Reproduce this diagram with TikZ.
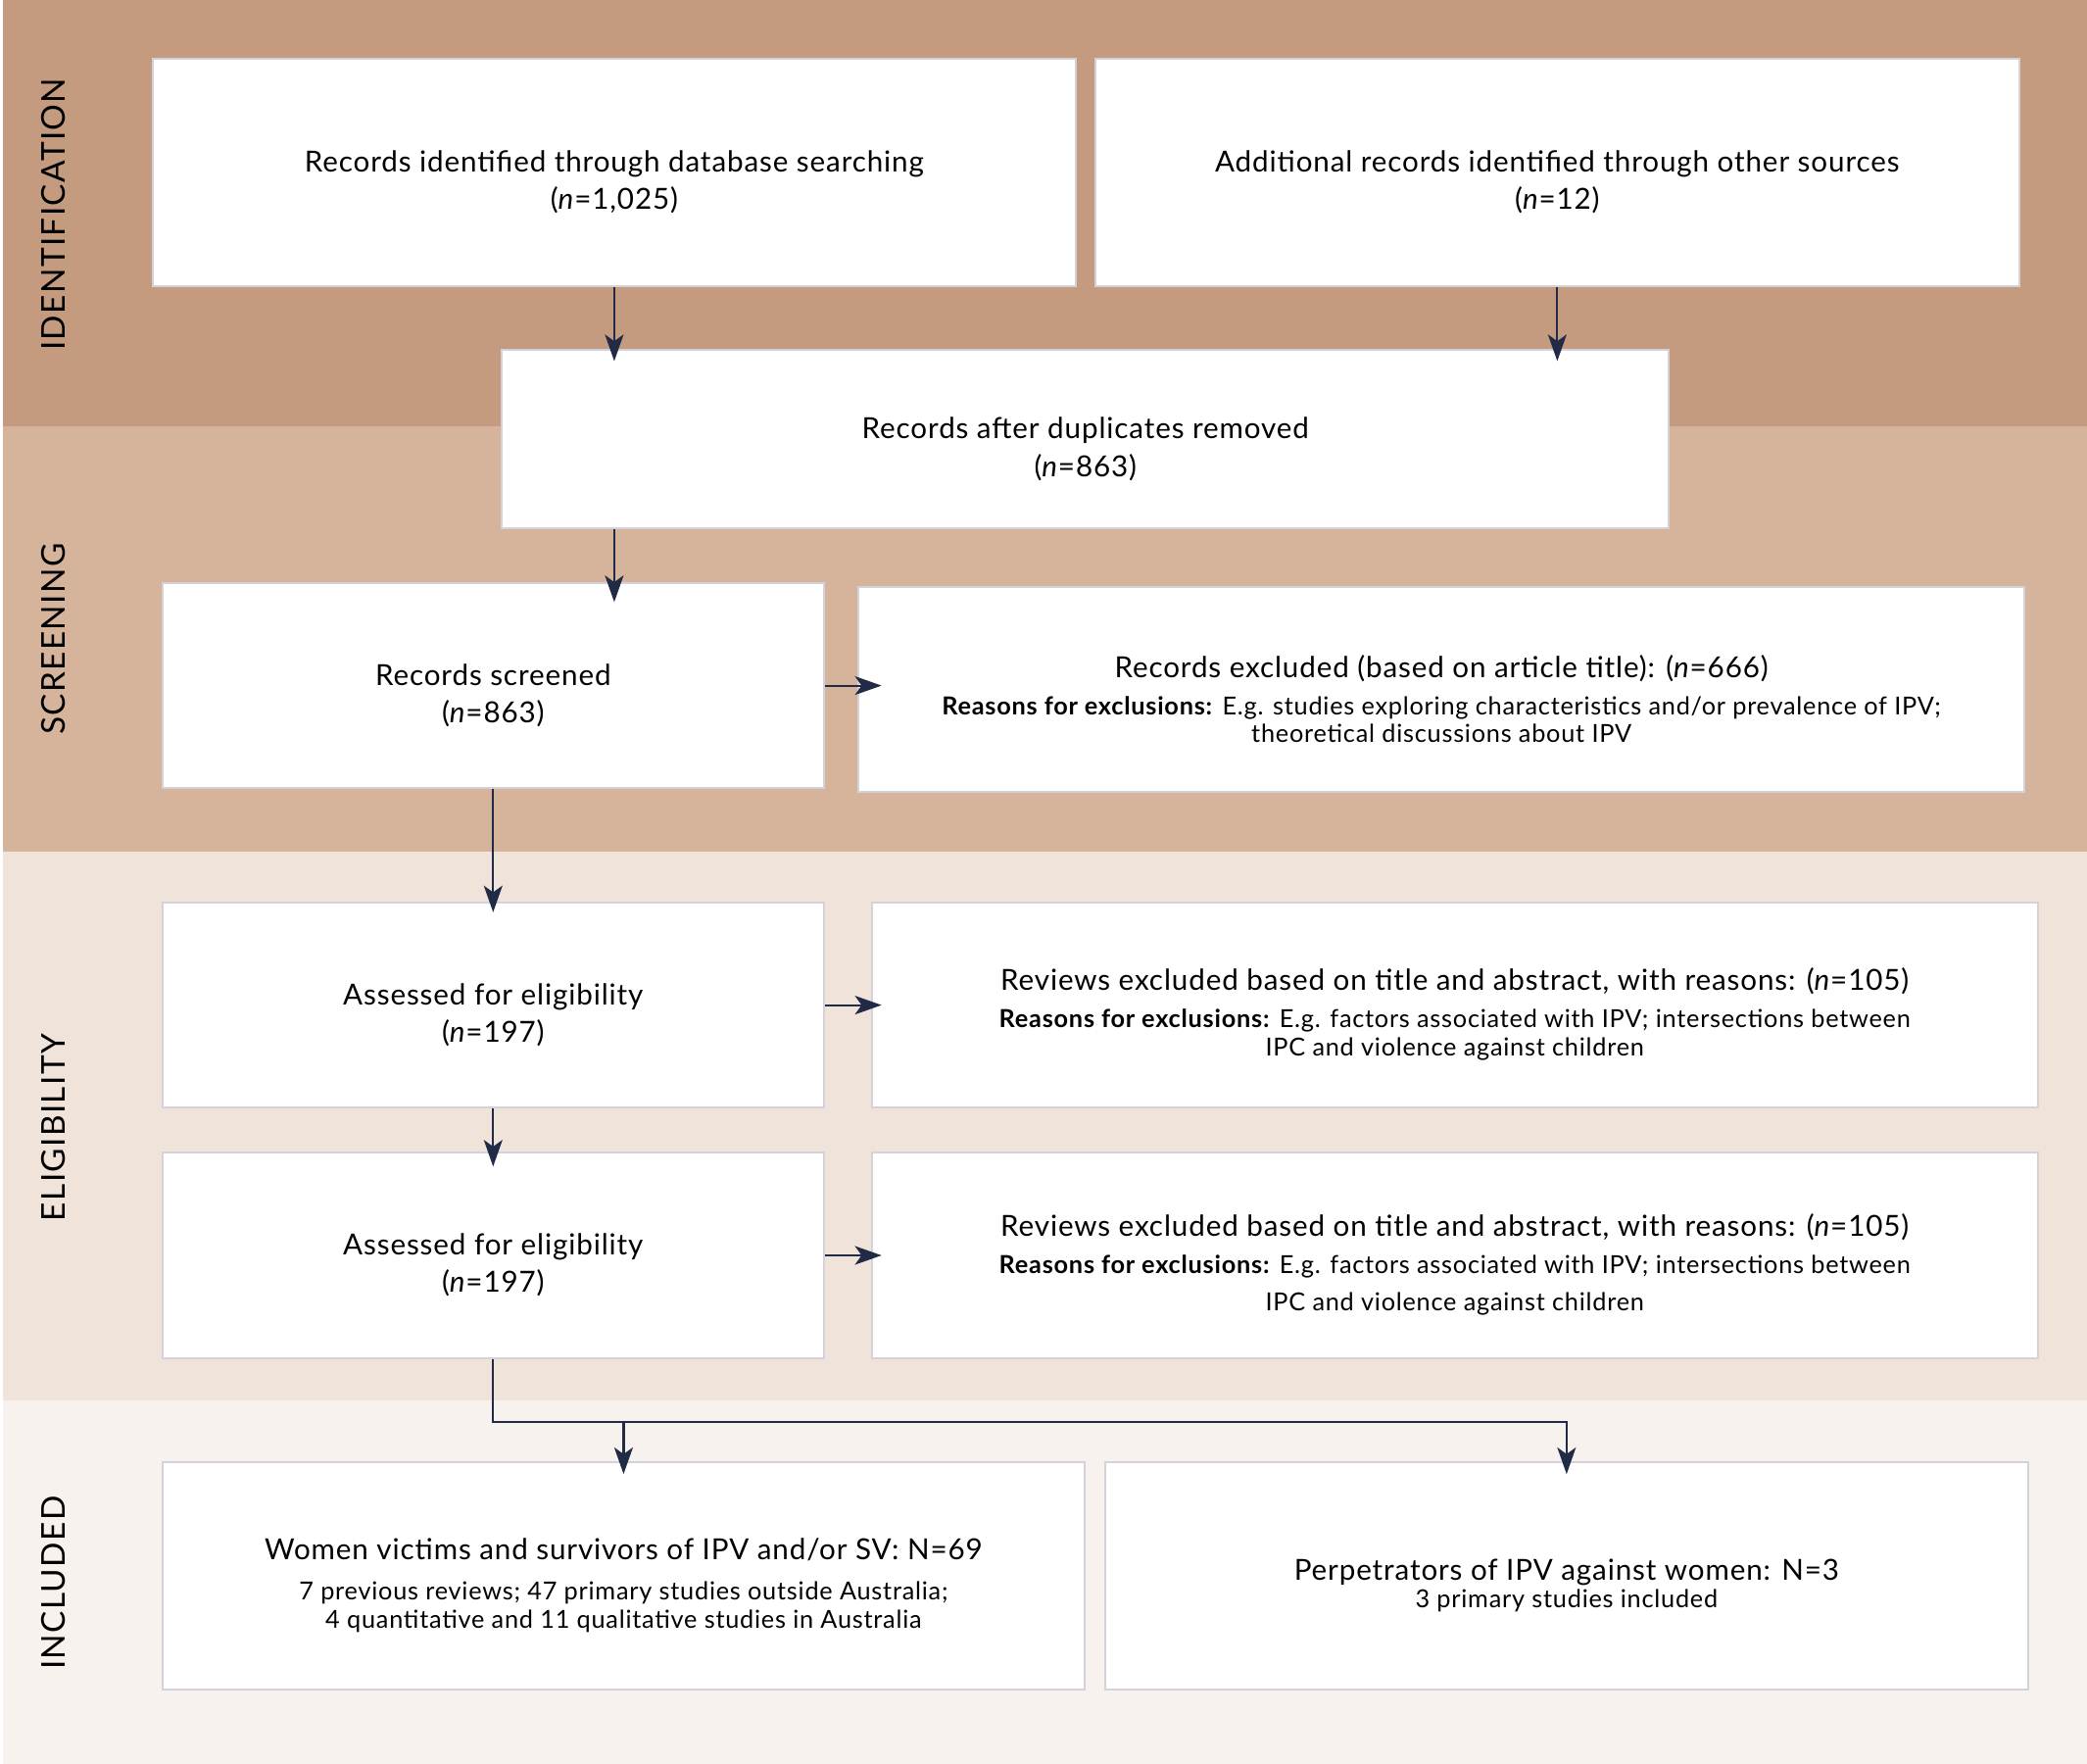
\documentclass[tikz,border=0pt]{standalone}
\usepackage{fontspec}
\setmainfont{Lato}[LetterSpace=3]
\newfontfamily\stagefont{Lato}[LetterSpace=4]
\usetikzlibrary{arrows.meta}

\definecolor{identcol}{HTML}{C49B7E}
\definecolor{screencol}{HTML}{D5B49B}
\definecolor{eligcol}{HTML}{F0E3DA}
\definecolor{inclcol}{HTML}{F8F2EE}
\definecolor{boxline}{HTML}{D5D1DB}
\definecolor{arrowcol}{HTML}{222B45}

\newcommand{\mainsize}{\fontsize{12.4}{16}\selectfont}
\newcommand{\smallsize}{\fontsize{10.6}{12}\selectfont}
\newcommand{\lift}{\rule{0pt}{17.5pt}}

\tikzset{
	box/.style={draw=boxline, line width=0.85pt, fill=white, inner sep=0pt, align=center, font=\mainsize},
	arr/.style={draw=arrowcol, line width=0.9pt, -{Stealth[length=0.4cm, width=0.28cm, inset=0.1cm]}},
	stage/.style={rotate=90, font=\stagefont\fontsize{14}{14}\selectfont},
}

\begin{document}
\begin{tikzpicture}[x=0.02cm, y=-0.02cm]

	\useasboundingbox (0,0) rectangle (1568,1325);

	% stage bands
	\fill[white] (0,0) rectangle (1568,1325);
	\fill[identcol]  (2,0)    rectangle (1568,320);
	\fill[screencol] (2,320)  rectangle (1568,640);
	\fill[eligcol]   (2,640)  rectangle (1568,1052);
	\fill[inclcol]   (2,1052) rectangle (1568,1325);

	\node[stage] (identlab)  at (40,161)  {IDENTIFICATION};
	\node[stage] (screenlab) at (40,480)  {SCREENING};
	\node[stage] (eliglab)   at (40,847)  {ELIGIBILITY};
	\node[stage] (incllab)   at (40,1189) {INCLUDED};

	% boxes
	\node[box, minimum width=13.86cm, minimum height=3.42cm] (dbrec) at (461.5,129.5)
		{\lift Records identified through database searching\\(\textit{n}=1,025)};
	\node[box, minimum width=13.88cm, minimum height=3.42cm] (othrec) at (1170,129.5)
		{\lift Additional records identified through other sources\\(\textit{n}=12)};
	\node[box, minimum width=17.54cm, minimum height=2.68cm] (dedup) at (815.5,330)
		{\lift Records after duplicates removed\\(\textit{n}=863)};

	\node[box, minimum width=9.94cm, minimum height=3.08cm] (screened) at (370.5,515)
		{\lift Records screened\\(\textit{n}=863)};
	\node[box, minimum width=17.52cm, minimum height=3.08cm] (excl) at (1083,518)
		{\lift Records excluded (based on article title): (\textit{n}=666)\\
		{\smallsize\textbf{Reasons for exclusions:} E.g. studies exploring characteristics and/or prevalence of IPV;}\\[-4pt]
		{\smallsize theoretical discussions about IPV}};

	\node[box, minimum width=9.94cm, minimum height=3.08cm] (elig1) at (370.5,755)
		{\lift Assessed for eligibility\\(\textit{n}=197)};
	\node[box, minimum width=17.52cm, minimum height=3.08cm] (revex1) at (1093,755)
		{\lift Reviews excluded based on title and abstract, with reasons: (\textit{n}=105)\\
		{\smallsize\textbf{Reasons for exclusions:} E.g. factors associated with IPV; intersections between}\\[-4pt]
		{\smallsize IPC and violence against children}};

	\node[box, minimum width=9.94cm, minimum height=3.08cm] (elig2) at (370.5,943)
		{\lift Assessed for eligibility\\(\textit{n}=197)};
	\node[box, minimum width=17.52cm, minimum height=3.08cm] (revex2) at (1093,943)
		{\lift Reviews excluded based on title and abstract, with reasons: (\textit{n}=105)\\
		{\smallsize\textbf{Reasons for exclusions:} E.g. factors associated with IPV; intersections between}\\
		{\smallsize IPC and violence against children}};

	\node[box, minimum width=13.86cm, minimum height=3.42cm] (incvict) at (468.5,1183.5)
		{\lift Women victims and survivors of IPV and/or SV: N=69\\[1pt]
		{\smallsize 7 previous reviews; 47 primary studies outside Australia;}\\[-4pt]
		{\smallsize 4 quantitative and 11 qualitative studies in Australia}};
	\node[box, minimum width=13.88cm, minimum height=3.42cm] (incperp) at (1177,1183.5)
		{\lift Perpetrators of IPV against women: N=3\\[-4pt]
		{\smallsize 3 primary studies included}};

	% arrows
	\draw[arr, shorten >=-0.18cm] (dbrec) -- (dbrec |- dedup.north);
	\draw[arr, shorten >=-0.18cm] (othrec) -- (othrec |- dedup.north);
	\draw[arr, shorten >=-0.3cm] (dedup.south -| dbrec) -- (dbrec |- screened.north);

	\draw[arr, shorten >=-0.36cm] (screened.east) -- (screened.east -| excl.west);
	\draw[arr, shorten >=-0.16cm] (screened) -- (elig1);

	\draw[arr, shorten >=-0.16cm] (elig1) -- (elig1 -| revex1.west);
	\draw[arr, shorten >=-0.22cm] (elig1) -- (elig2);
	\draw[arr, shorten >=-0.16cm] (elig2) -- (elig2 -| revex2.west);

	\coordinate (split) at (370.5,1068);
	\draw[arr, shorten >=-0.2cm] (elig2) -- (split) -| (incvict);
	\draw[arr, shorten >=-0.2cm] (split) -| (incperp);

\end{tikzpicture}
\end{document}
